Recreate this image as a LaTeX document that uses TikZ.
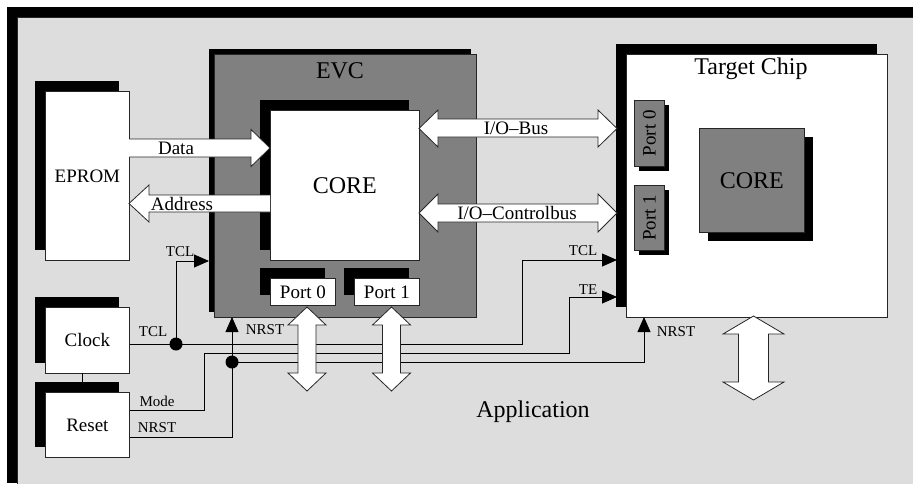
\documentclass[tikz,border=0pt]{standalone}
\usepackage{fontspec}
\setmainfont{Liberation Serif}
\usetikzlibrary{arrows.meta,positioning,calc,shadows}
\definecolor{AppGray}{HTML}{DDDDDD}
\definecolor{ChipGray}{HTML}{808080}

\tikzset{
  block/.style={draw=black!85, line width=0.8pt, inner sep=0pt, anchor=north west},
  shadowul/.style={general shadow={fill=black, shadow xshift=-#1, shadow yshift=#1}},
  shadowdr/.style={general shadow={fill=black, shadow xshift=#1, shadow yshift=-#1}},
  bus/.style={draw=black!85, fill=white, line width=0.8pt},
  sig/.style={line width=0.8pt, -{Triangle[length=15pt,width=13pt]}},
  big/.style={font=\fontsize{24}{28}\selectfont, inner sep=0pt},
  lbl/.style={font=\fontsize{19}{22}\selectfont, inner sep=0pt},
  sml/.style={font=\fontsize{15}{18}\selectfont, inner sep=0pt}
}

\begin{document}
\begin{tikzpicture}[x=1pt,y=-1pt]
  \useasboundingbox (0,0) rectangle (913,483);
  \clip (0,0) rectangle (913,483);

  % application board
  \node[block, fill=AppGray, shadowul=10pt, minimum width=906pt, minimum height=476pt] (app) at (17,17) {};
  \node[big] (applbl) at (533,412) {Application};

  % left side
  \node[block, fill=white, shadowul=10pt, minimum width=84pt, minimum height=169pt, lbl] (eprom) at (45,91) {EPROM};
  \node[block, fill=white, shadowul=10pt, minimum width=84pt, minimum height=66pt, lbl] (clock) at (45,307) {Clock};
  \node[block, fill=white, shadowul=10pt, minimum width=84pt, minimum height=65pt, lbl] (reset) at (45,392) {Reset};
  \draw[line width=0.8pt] (82,373) -- (82,382);

  % EVC
  \node[block, fill=ChipGray, shadowul=5pt, minimum width=262pt, minimum height=263pt] (evc) at (214,54) {};
  \node[big] (evclbl) at (340,71) {EVC};
  \node[block, fill=white, shadowul=10pt, minimum width=149pt, minimum height=150pt, big] (evccore) at (270,110) {CORE};
  \node[block, fill=white, shadowul=10pt, minimum width=65pt, minimum height=27pt, lbl] (evcp0) at (270,278) {Port 0};
  \node[block, fill=white, shadowul=10pt, minimum width=65pt, minimum height=27pt, lbl] (evcp1) at (354,278) {Port 1};

  % target chip
  \node[block, fill=white, shadowul=10pt, minimum width=261pt, minimum height=263pt] (target) at (626,54) {};
  \node[big] (targetlbl) at (751,69) {Target Chip};
  \node[block, fill=ChipGray, shadowdr=5pt, minimum width=30pt, minimum height=66pt] (tp0) at (634,100) {};
  \node[lbl, rotate=90] (tp0lbl) at (tp0.center) {Port 0};
  \node[block, fill=ChipGray, shadowdr=5pt, minimum width=30pt, minimum height=65pt] (tp1) at (634,185) {};
  \node[lbl, rotate=90] (tp1lbl) at (tp1.center) {Port 1};
  \node[block, fill=ChipGray, shadowdr=9pt, minimum width=105pt, minimum height=104pt, big] (tcore) at (699,128) {CORE};

  % control lines
  \coordinate (tcldot) at (176,344);
  \coordinate (nrstdot) at (232,362);
  \draw[sig] (clock.east |- tcldot) -- (522,344) |- (617,260);
  \draw[sig] (tcldot) |- (209,261);
  \draw[sig] (reset.east |- 0,410) -| (204,353) -| (569,297) -- (617,297);
  \draw[sig] (reset.east |- 0,437) -| (232,317);
  \draw[sig] (nrstdot) -| (644,317);
  \fill (tcldot) circle (6.5pt);
  \fill (nrstdot) circle (6.5pt);

  \node[sml] (tclclk) at (153,332) {TCL};
  \node[sml] (tclevc) at (180,252) {TCL};
  \node[sml] (tcltgt) at (583,251) {TCL};
  \node[sml] (tetgt) at (588,290) {TE};
  \node[sml] (mode) at (157,401) {Mode};
  \node[sml] (nrstrst) at (157,428) {NRST};
  \node[sml] (nrstevc) at (265,330) {NRST};
  \node[sml] (nrsttgt) at (676,332) {NRST};

  % buses
  \draw[bus] (129,139) -- (251,139) -- (251,129.5) -- (270,148) -- (251,166.5) -- (251,157) -- (129,157);
  \node[lbl] (datalbl) at (176,148) {Data};
  \draw[bus] (270,195) -- (149,195) -- (149,185) -- (129,203.5) -- (149,222) -- (149,212) -- (270,212);
  \node[lbl] (addrlbl) at (182,204) {Address};

  \draw[bus] (438,119) -- (598,119) -- (598,110) -- (617,128.5) -- (598,147) -- (598,137)
    -- (438,137) -- (438,147) -- (419,128.5) -- (438,110) -- cycle;
  \node[lbl] (iobus) at (516,128) {I/O--Bus};
  \draw[bus] (438,204) -- (598,204) -- (598,194) -- (617,213) -- (598,232) -- (598,222)
    -- (438,222) -- (438,232) -- (419,213) -- (438,194) -- cycle;
  \node[lbl] (ioctrl) at (517,213) {I/O--Controlbus};

  \draw[bus] (298,325) -- (288,325) -- (307,307) -- (326,325) -- (316,325) -- (316,373)
    -- (326,373) -- (307,391) -- (288,373) -- (298,373) -- cycle;
  \draw[bus] (382.5,325) -- (372.5,325) -- (391.5,307) -- (410.5,325) -- (400.5,325) -- (400.5,373)
    -- (410.5,373) -- (391.5,391) -- (372.5,373) -- (382.5,373) -- cycle;
  \draw[bus] (738.5,334) -- (723,334) -- (753.5,316) -- (784,334) -- (768.5,334) -- (768.5,382)
    -- (784,382) -- (753.5,400) -- (723,382) -- (738.5,382) -- cycle;
\end{tikzpicture}
\end{document}
